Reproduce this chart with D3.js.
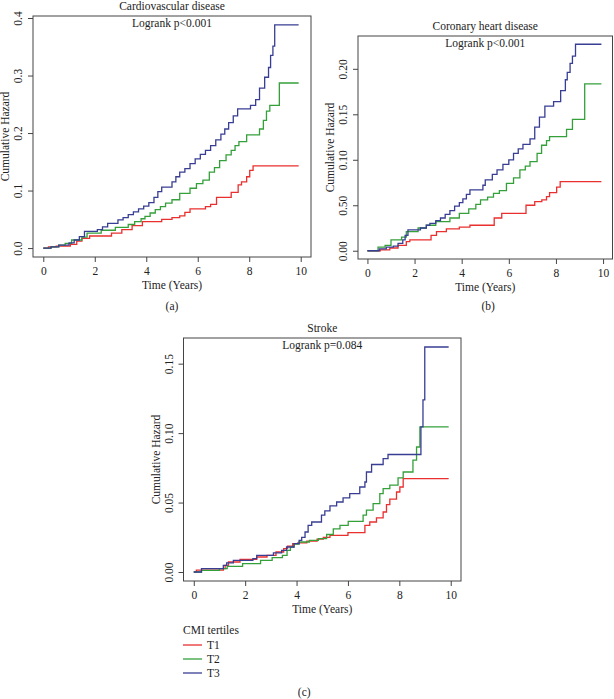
<!DOCTYPE html>
<html>
<head>
<meta charset="utf-8">
<script src="https://cdn.jsdelivr.net/npm/d3@7"></script>
<style>
  body { margin: 0; background: #fff; }
  svg text { font-family: "Liberation Serif", "DejaVu Serif", serif; fill: #222; }
</style>
</head>
<body>
<div id="chart"></div>
<script>
// Cumulative hazard step curves, [time in years, cumulative hazard]
const cvdT1 = [[0,0],[0.2,0.002],[0.5,0.0035],[1.05,0.0065],[1.3,0.012],[1.5,0.017],[1.8,0.021],[2.65,0.026],[3.05,0.032],[3.45,0.039],[3.85,0.046],[4.6,0.050],[5.0,0.053],[5.3,0.056],[5.5,0.062],[5.7,0.068],[6.3,0.072],[6.5,0.076],[6.73,0.088],[7.3,0.097],[7.57,0.110],[7.7,0.115],[7.9,0.124],[8.02,0.135],[8.15,0.143],[9.92,0.143]];
const cvdT2 = [[0,0],[0.3,0.002],[0.6,0.005],[0.85,0.008],[1.1,0.014],[1.5,0.019],[1.7,0.026],[2.25,0.031],[2.8,0.036],[3.3,0.041],[3.55,0.046],[3.8,0.051],[3.95,0.055],[4.15,0.061],[4.35,0.067],[4.55,0.072],[4.75,0.078],[5.0,0.084],[5.3,0.095],[5.7,0.104],[5.95,0.112],[6.2,0.118],[6.45,0.132],[6.65,0.140],[6.85,0.152],[7.1,0.162],[7.3,0.170],[7.45,0.178],[7.6,0.185],[7.9,0.197],[8.4,0.207],[8.55,0.222],[8.67,0.238],[8.8,0.248],[9.17,0.287],[9.92,0.287]];
const cvdT3 = [[0,0],[0.3,0.002],[0.6,0.005],[1.0,0.009],[1.2,0.014],[1.4,0.020],[1.6,0.029],[2.1,0.032],[2.3,0.037],[2.5,0.043],[2.9,0.049],[3.1,0.053],[3.3,0.058],[3.5,0.063],[3.7,0.068],[3.9,0.073],[4.1,0.079],[4.3,0.088],[4.45,0.098],[4.6,0.106],[5.0,0.115],[5.15,0.124],[5.3,0.132],[5.5,0.138],[5.7,0.147],[5.9,0.155],[6.1,0.163],[6.3,0.170],[6.5,0.178],[6.7,0.188],[6.9,0.198],[7.05,0.207],[7.2,0.218],[7.38,0.230],[7.55,0.242],[8.05,0.248],[8.25,0.258],[8.4,0.278],[8.6,0.297],[8.75,0.314],[8.83,0.335],[8.92,0.351],[8.99,0.388],[9.92,0.388]];

const chdT1 = [[0,0],[0.55,0.001],[0.95,0.003],[1.3,0.006],[1.65,0.010],[1.8,0.012],[2.7,0.017],[2.93,0.021],[3.35,0.024],[3.9,0.026],[4.35,0.028],[5.38,0.036],[5.7,0.041],[6.73,0.050],[7.1,0.054],[7.4,0.056],[7.6,0.0595],[7.73,0.064],[8.03,0.070],[8.18,0.076],[9.93,0.076]];
const chdT2 = [[0,0],[0.45,0.004],[0.75,0.006],[1.0,0.012],[1.45,0.015],[1.65,0.021],[2.15,0.025],[2.5,0.028],[2.9,0.032],[3.5,0.036],[3.9,0.041],[4.3,0.046],[4.6,0.051],[4.8,0.056],[5.1,0.059],[5.35,0.063],[5.6,0.066],[5.9,0.074],[6.2,0.080],[6.47,0.089],[6.7,0.093],[6.9,0.098],[7.2,0.107],[7.39,0.116],[7.6,0.121],[7.73,0.1255],[8.45,0.1335],[8.7,0.1445],[9.22,0.1835],[9.93,0.1835]];
const chdT3 = [[0,0],[0.5,0.002],[0.8,0.004],[1.1,0.005],[1.3,0.008],[1.5,0.012],[1.6,0.017],[1.72,0.023],[2.25,0.025],[2.5,0.028],[2.65,0.030],[2.9,0.033],[3.1,0.036],[3.3,0.040],[3.5,0.044],[3.7,0.049],[3.9,0.053],[4.05,0.057],[4.2,0.062],[4.35,0.067],[4.9,0.072],[5.0,0.078],[5.3,0.084],[5.5,0.089],[5.75,0.095],[6.0,0.100],[6.2,0.107],[6.4,0.112],[6.6,0.117],[6.9,0.123],[7.1,0.136],[7.3,0.147],[7.53,0.159],[7.9,0.164],[8.2,0.176],[8.4,0.188],[8.48,0.196],[8.6,0.206],[8.7,0.214],[8.83,0.227],[9.93,0.227]];

const strokeT1 = [[0,0],[0.1,0.0014],[1.15,0.0024],[1.22,0.0048],[1.35,0.0072],[1.8,0.0091],[2.45,0.0108],[2.85,0.012],[3.2,0.0144],[3.5,0.0168],[3.65,0.0187],[3.85,0.0204],[4.05,0.021],[4.4,0.0222],[4.8,0.0237],[5.04,0.025],[5.3,0.0264],[6.0,0.0284],[6.66,0.0336],[6.85,0.036],[7.11,0.039],[7.37,0.0432],[7.5,0.0485],[7.63,0.0524],[7.89,0.0576],[8.02,0.0612],[8.15,0.0673],[9.92,0.0673]];
const strokeT2 = [[0,0],[0.3,0.0012],[1.0,0.0024],[1.3,0.0041],[1.9,0.006],[2.6,0.0084],[3.05,0.0104],[3.45,0.012],[3.63,0.0156],[3.76,0.018],[3.9,0.020],[4.1,0.0216],[4.5,0.0228],[4.85,0.024],[5.17,0.027],[5.43,0.031],[5.69,0.0336],[6.01,0.0365],[6.59,0.0409],[6.72,0.0445],[6.98,0.0493],[7.24,0.0565],[7.37,0.060],[7.63,0.0625],[7.95,0.0677],[8.15,0.072],[8.53,0.0805],[8.67,0.090],[8.8,0.1045],[9.92,0.1045]];
const strokeT3 = [[0,0],[0.3,0.0024],[1.15,0.0048],[1.28,0.0065],[1.54,0.0084],[2.3,0.0096],[2.45,0.012],[3.1,0.0137],[3.42,0.0156],[3.61,0.018],[3.9,0.0204],[4.1,0.0228],[4.2,0.025],[4.33,0.0288],[4.45,0.0336],[4.59,0.036],[4.97,0.041],[5.1,0.044],[5.3,0.0476],[5.56,0.0504],[5.81,0.0533],[6.07,0.0565],[6.46,0.0612],[6.66,0.0648],[6.72,0.072],[6.92,0.0774],[7.37,0.0817],[7.56,0.0846],[8.84,0.1045],[8.92,0.124],[8.99,0.162],[9.92,0.162]];

const groups = ["T1", "T2", "T3"];
const groupColors = ["#ea2f2f", "#34a03a", "#383e93"];
const xTicks = [0, 2, 4, 6, 8, 10];

const cvdYTicks = [0, 0.1, 0.2, 0.3, 0.4];
const cvdYLabels = ["0.0", "0.1", "0.2", "0.3", "0.4"];
const chdYTicks = [0, 0.05, 0.10, 0.15, 0.20];
const chdYLabels = ["0.00", "0.50", "0.10", "0.15", "0.20"];
const strokeYTicks = [0, 0.05, 0.10, 0.15];
const strokeYLabels = ["0.00", "0.05", "0.10", "0.15"];

const width = 614, height = 699;
const fs = "11.5px";
const svg = d3.select("#chart").append("svg")
    .attr("width", width)
    .attr("height", height);

const line = d3.line().curve(d3.curveStepAfter);

function drawPanel(p) {
    const g = svg.append("g");

    // R style: axes padded 4% beyond the data range
    const yMax = d3.max(p.series, s => d3.max(s, d => d[1]));
    const x = d3.scaleLinear().domain([-0.4, 10.4]).range([p.left, p.right]);
    const y = d3.scaleLinear().domain([-0.04 * yMax, yMax * 1.04]).range([p.bottom, p.top]);

    // x axis
    const xa = g.append("g")
        .attr("transform", "translate(0," + p.bottom + ")")
        .call(d3.axisBottom(x).tickValues(xTicks).tickSize(5).tickFormat(d3.format("d")));
    xa.select(".domain").remove();
    xa.selectAll("line").attr("stroke", "#444");
    xa.selectAll("text")
        .attr("y", 18).attr("dy", 0)
        .style("font-size", fs);

    // y axis with labels parallel to the axis
    const ya = g.append("g")
        .attr("transform", "translate(" + p.left + ",0)")
        .call(d3.axisLeft(y).tickValues(p.yTicks).tickSize(5)
            .tickFormat((d, i) => p.yLabels[i]));
    ya.select(".domain").remove();
    ya.selectAll("line").attr("stroke", "#444");
    ya.selectAll("text")
        .attr("x", 0).attr("y", -11).attr("dy", 0)
        .attr("transform", "rotate(-90)")
        .style("text-anchor", "middle")
        .style("font-size", fs);

    // curves
    p.series.forEach((s, i) => {
        g.append("path")
            .datum(s)
            .attr("d", line.x(d => x(d[0])).y(d => y(d[1])))
            .attr("fill", "none")
            .attr("stroke", groupColors[i])
            .attr("stroke-width", 1.3);
    });

    // frame
    g.append("rect")
        .attr("x", p.left).attr("y", p.top)
        .attr("width", p.right - p.left).attr("height", p.bottom - p.top)
        .attr("fill", "none")
        .attr("stroke", "#444")
        .attr("stroke-width", 1);

    const cx = (p.left + p.right) / 2;

    g.append("text")
        .attr("x", cx).attr("y", p.top - 6.5)
        .style("text-anchor", "middle").style("font-size", fs)
        .text(p.title);

    g.append("text")
        .attr("x", cx).attr("y", p.top + 11)
        .style("text-anchor", "middle").style("font-size", fs)
        .text(p.logrank);

    g.append("text")
        .attr("x", cx).attr("y", p.bottom + 32)
        .style("text-anchor", "middle").style("font-size", fs)
        .text("Time (Years)");

    g.append("text")
        .attr("transform", "rotate(-90)")
        .attr("x", -(p.top + p.bottom) / 2)
        .attr("y", p.left - 24)
        .style("text-anchor", "middle").style("font-size", fs)
        .text("Cumulative Hazard");

    g.append("text")
        .attr("x", cx + p.tagDx).attr("y", p.tagY)
        .style("text-anchor", "middle").style("font-size", fs)
        .text(p.tag);
}

drawPanel({
    left: 33, right: 311, top: 16, bottom: 257,
    series: [cvdT1, cvdT2, cvdT3],
    yTicks: cvdYTicks, yLabels: cvdYLabels,
    title: "Cardiovascular disease", logrank: "Logrank p<0.001",
    tag: "(a)", tagY: 310, tagDx: 0
});

drawPanel({
    left: 358, right: 612.5, top: 36, bottom: 259,
    series: [chdT1, chdT2, chdT3],
    yTicks: chdYTicks, yLabels: chdYLabels,
    title: "Coronary heart disease", logrank: "Logrank p<0.001",
    tag: "(b)", tagY: 310, tagDx: 3
});

drawPanel({
    left: 183.5, right: 461, top: 338, bottom: 581,
    series: [strokeT1, strokeT2, strokeT3],
    yTicks: strokeYTicks, yLabels: strokeYLabels,
    title: "Stroke", logrank: "Logrank p=0.084",
    tag: "(c)", tagY: 696, tagDx: -18
});

// legend
const legend = svg.append("g").attr("transform", "translate(183,634)");
legend.append("text")
    .attr("x", 0).attr("y", 0)
    .style("font-size", fs)
    .text("CMI tertiles");
groups.forEach((grp, i) => {
    legend.append("line")
        .attr("x1", 0).attr("x2", 19)
        .attr("y1", 11 + i * 14).attr("y2", 11 + i * 14)
        .attr("stroke", groupColors[i])
        .attr("stroke-width", 1.3);
    legend.append("text")
        .attr("x", 24).attr("y", 15 + i * 14)
        .style("font-size", fs)
        .text(grp);
});
</script>
</body>
</html>
